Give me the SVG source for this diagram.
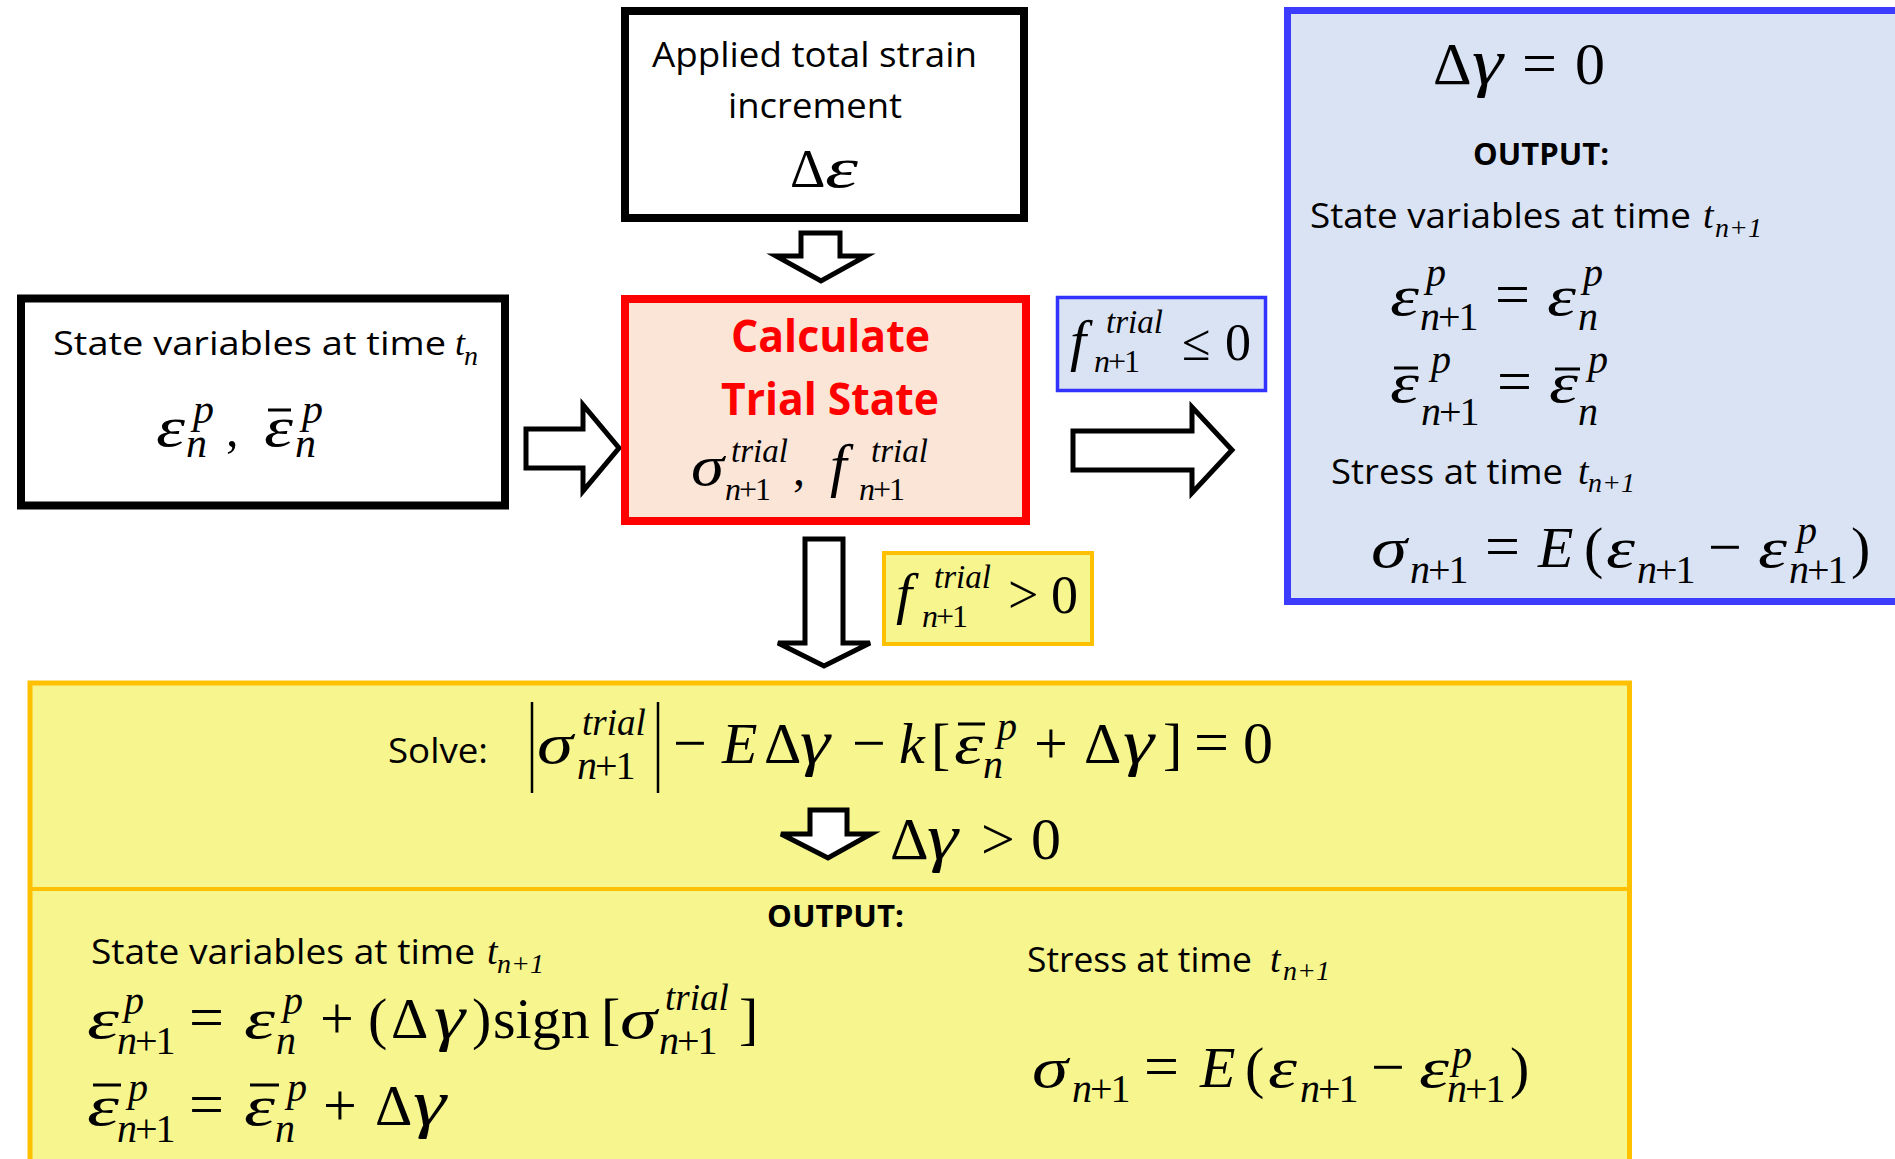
<svg xmlns="http://www.w3.org/2000/svg" width="1895" height="1159" viewBox="0 0 1895 1159">
<style>
.s{font-family:"Open Sans","Liberation Sans",sans-serif;fill:#000}
.b{font-weight:bold}
.m{font-family:"Liberation Serif","Times New Roman",serif;fill:#000}
.i{font-style:italic}
.arrow{fill:#fff;stroke:#000;stroke-width:5;stroke-linejoin:miter}
.sub{letter-spacing:-2px}
.bar{stroke:#000;stroke-width:3}
</style>
<rect width="1895" height="1159" fill="#fff"/>

<g id="connectors">
  <polygon class="arrow" points="801,233 840,233 840,256 866,256 821,281 776,256 801,256"/>
  <polygon class="arrow" points="526,429 583,429 583,405 619,448 583,491 583,468 526,468"/>
  <polygon class="arrow" points="1073,431 1192,431 1192,407 1232,450 1192,493 1192,470 1073,470"/>
  <polygon class="arrow" points="805,539 843,539 843,643 870,643 824,666 778,643 805,643"/>
</g>

<g id="strain-input">
  <rect x="625" y="11" width="399" height="207" fill="#fff" stroke="#000" stroke-width="8"/>
  <text class="s" x="652" y="67" font-size="34" textLength="325" lengthAdjust="spacingAndGlyphs">Applied total strain</text>
  <text class="s" x="728" y="118" font-size="34" textLength="174" lengthAdjust="spacingAndGlyphs">increment</text>
  <text class="m" x="790" y="187" font-size="55">Δ</text>
  <text class="m i" x="825" y="187" font-size="58" textLength="33" lengthAdjust="spacingAndGlyphs">ε</text>
</g>

<g id="state-n">
  <rect x="21" y="298.5" width="484" height="207" fill="#fff" stroke="#000" stroke-width="8"/>
  <text class="s" x="53" y="355" font-size="32" textLength="393" lengthAdjust="spacingAndGlyphs">State variables at time</text>
  <text class="m i"><tspan x="455" y="355" font-size="36">t</tspan><tspan x="464" y="365" font-size="28">n</tspan></text>
  <text class="m i" x="156" y="446" font-size="56" textLength="29" lengthAdjust="spacingAndGlyphs">ε</text>
  <text class="m i" x="264" y="446" font-size="56" textLength="29" lengthAdjust="spacingAndGlyphs">ε</text>
  <line class="bar" x1="268" y1="410" x2="291" y2="410"/>
  <text class="m">
    <tspan class="i" x="193" y="423" font-size="42">p</tspan><tspan class="i" x="186" y="457" font-size="42">n</tspan><tspan x="226" y="446" font-size="50">,</tspan>
    <tspan class="i" x="302" y="423" font-size="42">p</tspan><tspan class="i" x="295" y="457" font-size="42">n</tspan>
  </text>
</g>

<g id="trial-state">
  <rect x="625" y="299" width="401" height="222" fill="#FBE5D6" stroke="#FF0000" stroke-width="8"/>
  <text class="s b" x="731" y="352" font-size="44" style="fill:#FF0000" textLength="199" lengthAdjust="spacingAndGlyphs">Calculate</text>
  <text class="s b" x="721" y="415" font-size="44" style="fill:#FF0000" textLength="218" lengthAdjust="spacingAndGlyphs">Trial State</text>
  <text class="m i" x="691" y="485" font-size="58" textLength="33" lengthAdjust="spacingAndGlyphs">σ</text>
  <text class="m">
    <tspan class="i" x="731" y="462" font-size="33">trial</tspan><tspan x="725" y="500" font-size="32" class="sub"><tspan class="i">n</tspan>+1</tspan><tspan x="793" y="485" font-size="48">,</tspan>
    <tspan class="i" x="830" y="485" font-size="60">f</tspan><tspan class="i" x="871" y="462" font-size="33">trial</tspan><tspan x="859" y="500" font-size="32" class="sub"><tspan class="i">n</tspan>+1</tspan>
  </text>
</g>

<g id="cond-elastic">
  <rect x="1057.5" y="297.5" width="208" height="93" fill="#DAE3F3" stroke="#3333FF" stroke-width="3.5"/>
  <text class="m">
    <tspan class="i" x="1070" y="360" font-size="58">f</tspan><tspan class="i" x="1106" y="333" font-size="33">trial</tspan><tspan x="1094" y="372" font-size="32" class="sub"><tspan class="i">n</tspan>+1</tspan><tspan x="1182" y="360" font-size="52">≤</tspan><tspan x="1225" y="360" font-size="52">0</tspan>
  </text>
</g>

<g id="cond-plastic">
  <rect x="884" y="553" width="208" height="91" fill="#F6F58E" stroke="#FFC000" stroke-width="4"/>
  <text class="m">
    <tspan class="i" x="896" y="613" font-size="58">f</tspan><tspan class="i" x="934" y="588" font-size="33">trial</tspan><tspan x="922" y="627" font-size="32" class="sub"><tspan class="i">n</tspan>+1</tspan><tspan x="1008" y="613" font-size="54">&gt;</tspan><tspan x="1051" y="613" font-size="54">0</tspan>
  </text>
</g>

<g id="elastic-output">
  <rect x="1287.5" y="10.5" width="640" height="591" fill="#DAE3F3" stroke="#3C3CFF" stroke-width="7"/>
  <text class="m" y="84" font-size="60"><tspan x="1433">Δ</tspan><tspan x="1522" font-size="62">=</tspan><tspan x="1575">0</tspan></text>
  <text class="m i" x="1472" y="84" font-size="66" textLength="31" lengthAdjust="spacingAndGlyphs">γ</text>
  <text class="s b" x="1473" y="165" font-size="31" textLength="136" lengthAdjust="spacingAndGlyphs">OUTPUT:</text>
  <text class="s" x="1310" y="228" font-size="35" textLength="381" lengthAdjust="spacingAndGlyphs">State variables at time</text>
  <text class="m i"><tspan x="1703" y="228" font-size="38">t</tspan><tspan x="1715" y="237" font-size="28">n+1</tspan></text>

  <text class="m i" x="1390" y="315" font-size="58" textLength="29" lengthAdjust="spacingAndGlyphs">ε</text>
  <text class="m i" x="1547" y="315" font-size="58" textLength="29" lengthAdjust="spacingAndGlyphs">ε</text>
  <text class="m">
    <tspan class="i" x="1426" y="286" font-size="40">p</tspan><tspan x="1420" y="330" font-size="40" class="sub"><tspan class="i">n</tspan>+1</tspan>
    <tspan x="1495" y="315" font-size="62">=</tspan>
    <tspan class="i" x="1583" y="286" font-size="40">p</tspan><tspan class="i" x="1578" y="330" font-size="40">n</tspan>
  </text>

  <text class="m i" x="1390" y="402" font-size="58" textLength="29" lengthAdjust="spacingAndGlyphs">ε</text>
  <text class="m i" x="1549" y="402" font-size="58" textLength="29" lengthAdjust="spacingAndGlyphs">ε</text>
  <line class="bar" x1="1394" y1="368" x2="1418" y2="368"/>
  <line class="bar" x1="1555" y1="369" x2="1580" y2="369"/>
  <text class="m">
    <tspan class="i" x="1431" y="373" font-size="40">p</tspan><tspan x="1421" y="425" font-size="40" class="sub"><tspan class="i">n</tspan>+1</tspan>
    <tspan x="1497" y="402" font-size="62">=</tspan>
    <tspan class="i" x="1588" y="373" font-size="40">p</tspan><tspan class="i" x="1578" y="425" font-size="40">n</tspan>
  </text>

  <text class="s" x="1331" y="484" font-size="35" textLength="232" lengthAdjust="spacingAndGlyphs">Stress at time</text>
  <text class="m i"><tspan x="1578" y="484" font-size="38">t</tspan><tspan x="1588" y="492" font-size="28">n+1</tspan></text>

  <text class="m i" x="1371" y="567" font-size="58" textLength="36" lengthAdjust="spacingAndGlyphs">σ</text>
  <text class="m i" x="1606" y="567" font-size="58" textLength="29" lengthAdjust="spacingAndGlyphs">ε</text>
  <text class="m i" x="1758" y="567" font-size="58" textLength="29" lengthAdjust="spacingAndGlyphs">ε</text>
  <text class="m">
    <tspan x="1410" y="583" font-size="40" class="sub"><tspan class="i">n</tspan>+1</tspan>
    <tspan x="1485" y="567" font-size="62">=</tspan>
    <tspan class="i" x="1538" y="567" font-size="58">E</tspan><tspan x="1584" y="567" font-size="58">(</tspan><tspan x="1637" y="583" font-size="40" class="sub"><tspan class="i">n</tspan>+1</tspan>
    <tspan x="1708" y="567" font-size="60">−</tspan>
    <tspan class="i" x="1797" y="544" font-size="40">p</tspan><tspan x="1789" y="583" font-size="40" class="sub"><tspan class="i">n</tspan>+1</tspan><tspan x="1851" y="567" font-size="58">)</tspan>
  </text>
</g>

<g id="plastic-output">
  <rect x="30" y="683" width="1599.5" height="520" fill="#F6F58E" stroke="#FFC000" stroke-width="5"/>
  <line x1="30" y1="889" x2="1629" y2="889" stroke="#FFC000" stroke-width="4"/>
  <text class="s" x="388" y="763" font-size="35" textLength="100" lengthAdjust="spacingAndGlyphs">Solve:</text>
  <line x1="532" y1="702" x2="532" y2="793" stroke="#000" stroke-width="2.5"/>
  <line x1="658" y1="702" x2="658" y2="793" stroke="#000" stroke-width="2.5"/>
  <text class="m i" x="537" y="763" font-size="58" textLength="36" lengthAdjust="spacingAndGlyphs">σ</text>
  <text class="m i" x="800" y="763" font-size="64" textLength="30" lengthAdjust="spacingAndGlyphs">γ</text>
  <text class="m i" x="954" y="763" font-size="58" textLength="29" lengthAdjust="spacingAndGlyphs">ε</text>
  <line class="bar" x1="958" y1="724" x2="985" y2="724"/>
  <text class="m i" x="1123" y="763" font-size="64" textLength="31" lengthAdjust="spacingAndGlyphs">γ</text>
  <text class="m">
    <tspan class="i" x="582" y="735" font-size="37">trial</tspan><tspan x="577" y="779" font-size="40" class="sub"><tspan class="i">n</tspan>+1</tspan>
    <tspan x="673" y="763" font-size="60">−</tspan><tspan class="i" x="722" y="763" font-size="58">E</tspan><tspan x="764" y="763" font-size="58">Δ</tspan>
    <tspan x="852" y="763" font-size="60">−</tspan><tspan class="i" x="899" y="763" font-size="58">k</tspan><tspan x="931" y="763" font-size="58">[</tspan><tspan class="i" x="997" y="740" font-size="40">p</tspan><tspan class="i" x="983" y="778" font-size="40">n</tspan>
    <tspan x="1034" y="763" font-size="60">+</tspan><tspan x="1084" y="763" font-size="58">Δ</tspan><tspan x="1163" y="763" font-size="58">]</tspan><tspan x="1194" y="763" font-size="62">=</tspan><tspan x="1243" y="763" font-size="60">0</tspan>
  </text>
  <polygon class="arrow" points="810,810 847,810 847,834 871,834 828,858 781,834 810,834"/>
  <text class="m" y="859" font-size="60"><tspan x="890">Δ</tspan><tspan x="981">&gt;</tspan><tspan x="1031">0</tspan></text>
  <text class="m i" x="927" y="859" font-size="66" textLength="31" lengthAdjust="spacingAndGlyphs">γ</text>

  <text class="s b" x="767" y="927" font-size="31" textLength="137" lengthAdjust="spacingAndGlyphs">OUTPUT:</text>
  <text class="s" x="91" y="964" font-size="35" textLength="384" lengthAdjust="spacingAndGlyphs">State variables at time</text>
  <text class="m i"><tspan x="487" y="964" font-size="38">t</tspan><tspan x="497" y="973" font-size="28">n+1</tspan></text>

  <text class="m i" x="87" y="1038" font-size="58" textLength="32" lengthAdjust="spacingAndGlyphs">ε</text>
  <text class="m i" x="244" y="1038" font-size="58" textLength="31" lengthAdjust="spacingAndGlyphs">ε</text>
  <text class="m i" x="434" y="1038" font-size="64" textLength="31" lengthAdjust="spacingAndGlyphs">γ</text>
  <text class="m i" x="620" y="1038" font-size="58" textLength="37" lengthAdjust="spacingAndGlyphs">σ</text>
  <text class="m">
    <tspan class="i" x="124" y="1014" font-size="40">p</tspan><tspan x="117" y="1054" font-size="40" class="sub"><tspan class="i">n</tspan>+1</tspan>
    <tspan x="189" y="1038" font-size="62">=</tspan>
    <tspan class="i" x="283" y="1014" font-size="40">p</tspan><tspan class="i" x="276" y="1054" font-size="40">n</tspan>
    <tspan x="320" y="1038" font-size="60">+</tspan><tspan x="368" y="1038" font-size="58">(</tspan><tspan x="391" y="1038" font-size="58">Δ</tspan><tspan x="472" y="1038" font-size="58">)</tspan><tspan x="493" y="1038" font-size="58">sign</tspan><tspan x="601" y="1038" font-size="58">[</tspan>
    <tspan class="i" x="665" y="1010" font-size="37">trial</tspan><tspan x="659" y="1054" font-size="40" class="sub"><tspan class="i">n</tspan>+1</tspan><tspan x="739" y="1038" font-size="58">]</tspan>
  </text>

  <text class="m i" x="87" y="1125" font-size="58" textLength="32" lengthAdjust="spacingAndGlyphs">ε</text>
  <text class="m i" x="244" y="1125" font-size="58" textLength="31" lengthAdjust="spacingAndGlyphs">ε</text>
  <text class="m i" x="413" y="1125" font-size="66" textLength="33" lengthAdjust="spacingAndGlyphs">γ</text>
  <line class="bar" x1="93" y1="1085" x2="121" y2="1085"/>
  <line class="bar" x1="250" y1="1085" x2="279" y2="1085"/>
  <text class="m">
    <tspan class="i" x="128" y="1101" font-size="40">p</tspan><tspan x="117" y="1142" font-size="40" class="sub"><tspan class="i">n</tspan>+1</tspan>
    <tspan x="189" y="1125" font-size="62">=</tspan>
    <tspan class="i" x="287" y="1101" font-size="40">p</tspan><tspan class="i" x="275" y="1142" font-size="40">n</tspan>
    <tspan x="323" y="1125" font-size="60">+</tspan><tspan x="375" y="1125" font-size="58">Δ</tspan>
  </text>

  <text class="s" x="1027" y="972" font-size="35" textLength="225" lengthAdjust="spacingAndGlyphs">Stress at time</text>
  <text class="m i"><tspan x="1270" y="972" font-size="38">t</tspan><tspan x="1283" y="980" font-size="28">n+1</tspan></text>
  <text class="m i" x="1032" y="1087" font-size="58" textLength="36" lengthAdjust="spacingAndGlyphs">σ</text>
  <text class="m i" x="1268" y="1087" font-size="58" textLength="29" lengthAdjust="spacingAndGlyphs">ε</text>
  <text class="m i" x="1419" y="1087" font-size="58" textLength="30" lengthAdjust="spacingAndGlyphs">ε</text>
  <text class="m">
    <tspan x="1072" y="1102" font-size="40" class="sub"><tspan class="i">n</tspan>+1</tspan>
    <tspan x="1144" y="1087" font-size="62">=</tspan>
    <tspan class="i" x="1200" y="1087" font-size="58">E</tspan><tspan x="1245" y="1087" font-size="58">(</tspan><tspan x="1300" y="1102" font-size="40" class="sub"><tspan class="i">n</tspan>+1</tspan>
    <tspan x="1371" y="1087" font-size="60">−</tspan>
    <tspan class="i" x="1452" y="1068" font-size="40">p</tspan><tspan x="1447" y="1102" font-size="40" class="sub"><tspan class="i">n</tspan>+1</tspan><tspan x="1510" y="1087" font-size="58">)</tspan>
  </text>
</g>
</svg>
